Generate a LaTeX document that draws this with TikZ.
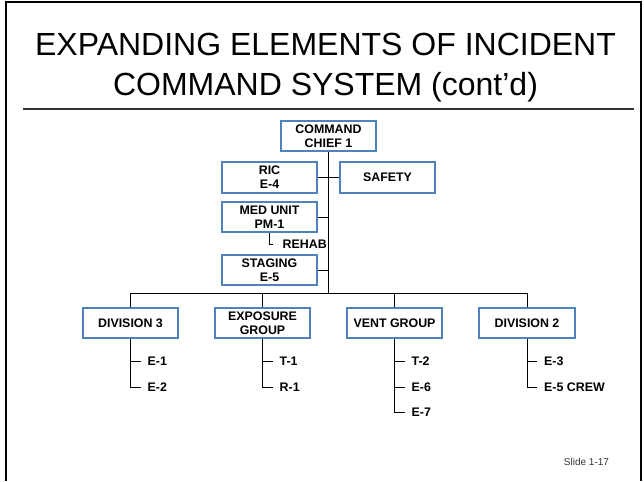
\documentclass[tikz,border=0pt]{standalone}
\usepackage{fontspec}
\setmainfont{Liberation Sans}
\usetikzlibrary{calc,positioning}
\definecolor{icsblue}{RGB}{79,129,189}
\tikzset{
	ics_base/.style={font=\bfseries\fontsize{12.4}{14}\selectfont},
	ics_block/.style={ics_base, draw=icsblue, line width=1.6pt, fill=white, rectangle, on grid, align=center, minimum width=95.5pt, minimum height=30.5pt, inner sep=1pt},
	ics_unit/.style={ics_base, anchor=west, inner sep=0pt},
	ics_line/.style={draw=black, line width=0.9pt},
	ics_title/.style={font=\fontsize{32}{40}\selectfont, anchor=base},
	ics_foot/.style={font=\fontsize{10}{12}\selectfont, text=black!80, anchor=base}
}

\begin{document}
\begin{tikzpicture}[x=1pt,y=-1pt]
		\useasboundingbox (0,0) rectangle (644,481);
		\draw [line width=2pt] (6,481) -- (6,2) -- (641,2) -- (641,481);

		\node [ics_title] (title_top) at (325.5,56) {EXPANDING ELEMENTS OF INCIDENT};
		\node [ics_title] (title_bot) at (325.5,96) {COMMAND SYSTEM (cont’d)};
		\draw [line width=2pt, black!80] (23,109) -- (634,109);

		\node [ics_block] (command) at (328.5,136) {COMMAND\\CHIEF 1};
		\node [ics_block, below left = 41.5pt and 59pt of command] (ric) {RIC\\E-4};
		\node [ics_block, right = 118pt of ric] (safety) {SAFETY};
		\node [ics_block, below = 39.5pt of ric] (medunit) {MED UNIT\\PM-1};
		\node [ics_unit] (rehab) at ($(medunit.south)+(13,11)$) {REHAB};
		\node [ics_block, below = 53pt of medunit] (staging) {STAGING\\E-5};

		\node [ics_block, below left = 187pt and 198pt of command] (div3) {DIVISION 3};
		\node [ics_block, right = 132pt of div3] (expo) {EXPOSURE\\GROUP};
		\node [ics_block, right = 132pt of expo] (vent) {VENT GROUP};
		\node [ics_block, right = 132.5pt of vent] (div2) {DIVISION 2};

		\node [ics_unit] (e1) at ($(div3.south)+(17,22)$) {E-1};
		\node [ics_unit] (e2) at ($(div3.south)+(17,48)$) {E-2};
		\node [ics_unit] (t1) at ($(expo.south)+(17,22)$) {T-1};
		\node [ics_unit] (r1) at ($(expo.south)+(17,48)$) {R-1};
		\node [ics_unit] (t2) at ($(vent.south)+(17,22)$) {T-2};
		\node [ics_unit] (e6) at ($(vent.south)+(17,48)$) {E-6};
		\node [ics_unit] (e7) at ($(vent.south)+(17,73)$) {E-7};
		\node [ics_unit] (e3) at ($(div2.south)+(17,22)$) {E-3};
		\node [ics_unit] (e5crew) at ($(div2.south)+(17,48)$) {E-5 CREW};

		% command trunk and bus
		\coordinate (bus) at ($(command.south)+(0,141)$);
		\draw [ics_line] (command.south) -- (bus);
		\draw [ics_line] (div3.north |- bus) -- (div2.north |- bus);
		\draw [ics_line] (div3.north) -- (div3.north |- bus);
		\draw [ics_line] (expo.north) -- (expo.north |- bus);
		\draw [ics_line] (vent.north) -- (vent.north |- bus);
		\draw [ics_line] (div2.north) -- (div2.north |- bus);

		% staff
		\draw [ics_line] (ric.east) -- (safety.west);
		\draw [ics_line] (medunit.east) -- (medunit.east -| command.south);
		\draw [ics_line] (staging.east) -- (staging.east -| command.south);
		\draw [ics_line] (medunit.south) |- ($(rehab.west)+(-10,0)$);

		% units
		\draw [ics_line] (div3.south) |- ($(e2.west)+(-7,0)$);
		\draw [ics_line] (e1.west -| div3.south) -- ($(e1.west)+(-7,0)$);
		\draw [ics_line] (expo.south) |- ($(r1.west)+(-7,0)$);
		\draw [ics_line] (t1.west -| expo.south) -- ($(t1.west)+(-7,0)$);
		\draw [ics_line] (vent.south) |- ($(e7.west)+(-7,0)$);
		\draw [ics_line] (t2.west -| vent.south) -- ($(t2.west)+(-7,0)$);
		\draw [ics_line] (e6.west -| vent.south) -- ($(e6.west)+(-7,0)$);
		\draw [ics_line] (div2.south) |- ($(e5crew.west)+(-7,0)$);
		\draw [ics_line] (e3.west -| div2.south) -- ($(e3.west)+(-7,0)$);

		\node [ics_foot] (slide) at (586.5,465) {Slide 1-17};
	\end{tikzpicture}
\end{document}
